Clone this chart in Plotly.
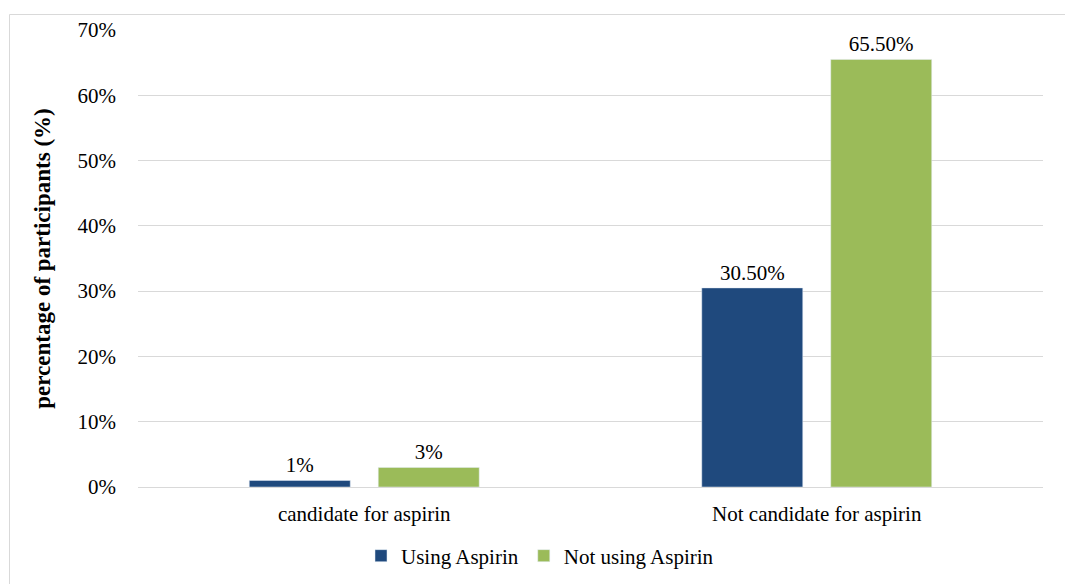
import plotly.graph_objects as go

categories = ["candidate for aspirin", "Not candidate for aspirin"]
using_aspirin = [1, 30.5]
not_using_aspirin = [3, 65.5]
using_labels = ["1%", "30.50%"]
not_using_labels = ["3%", "65.50%"]
y_ticks = [0, 10, 20, 30, 40, 50, 60, 70]
y_tick_labels = ["0%", "10%", "20%", "30%", "40%", "50%", "60%", "70%"]

FONT = "Liberation Serif, Times New Roman, serif"
FS = 21
W, H = 1065, 584
L, R, T, B = 138, 22, 30, 97
pw, ph = W - L - R, H - T - B

fig = go.Figure()
fig.add_trace(go.Bar(name="Using Aspirin", x=categories, y=using_aspirin,
                     marker_color="#1F497D", text=using_labels, textposition="outside",
                     constraintext="none",
                     textfont=dict(size=FS, color="#000000"), cliponaxis=False))
fig.add_trace(go.Bar(name="Not using Aspirin", x=categories, y=not_using_aspirin,
                     marker_color="#9BBB59", text=not_using_labels, textposition="outside",
                     constraintext="none",
                     textfont=dict(size=FS, color="#000000"), cliponaxis=False))

fig.update_layout(
    width=W, height=H,
    margin=dict(l=L, r=R, t=T, b=B, autoexpand=False),
    paper_bgcolor="white", plot_bgcolor="white",
    font=dict(family=FONT, size=FS, color="#000000"),
    barmode="group", bargap=0.43, bargroupgap=0.217,
    showlegend=True,
    legend=dict(orientation="h", x=(540 - L) / pw, xanchor="center",
                y=-(556 - (T + ph)) / ph, yanchor="middle",
                font=dict(size=FS), itemwidth=30, tracegroupgap=0),
    xaxis=dict(showgrid=False, showline=False, ticks="", tickfont=dict(size=FS),
               ticklabelstandoff=12),
    yaxis=dict(range=[0, 70], tickvals=y_ticks, ticktext=y_tick_labels,
               showgrid=True, gridcolor="#D9D9D9", gridwidth=1,
               zeroline=True, zerolinecolor="#D9D9D9", zerolinewidth=1,
               showline=False, ticks="", ticklabelstandoff=21,
               tickfont=dict(size=FS),
               title=dict(text="<b>percentage of participants (%)</b>",
                          font=dict(size=23), standoff=20)),
    shapes=[dict(type="rect", xref="paper", yref="paper",
                 x0=(9.5 - L) / pw, x1=(1100 - L) / pw,
                 y0=-(620 - (T + ph)) / ph, y1=(T + ph - 14.5) / ph,
                 line=dict(color="#D9D9D9", width=1), fillcolor="rgba(0,0,0,0)",
                 layer="below")],
)

fig.write_html("out.html")
